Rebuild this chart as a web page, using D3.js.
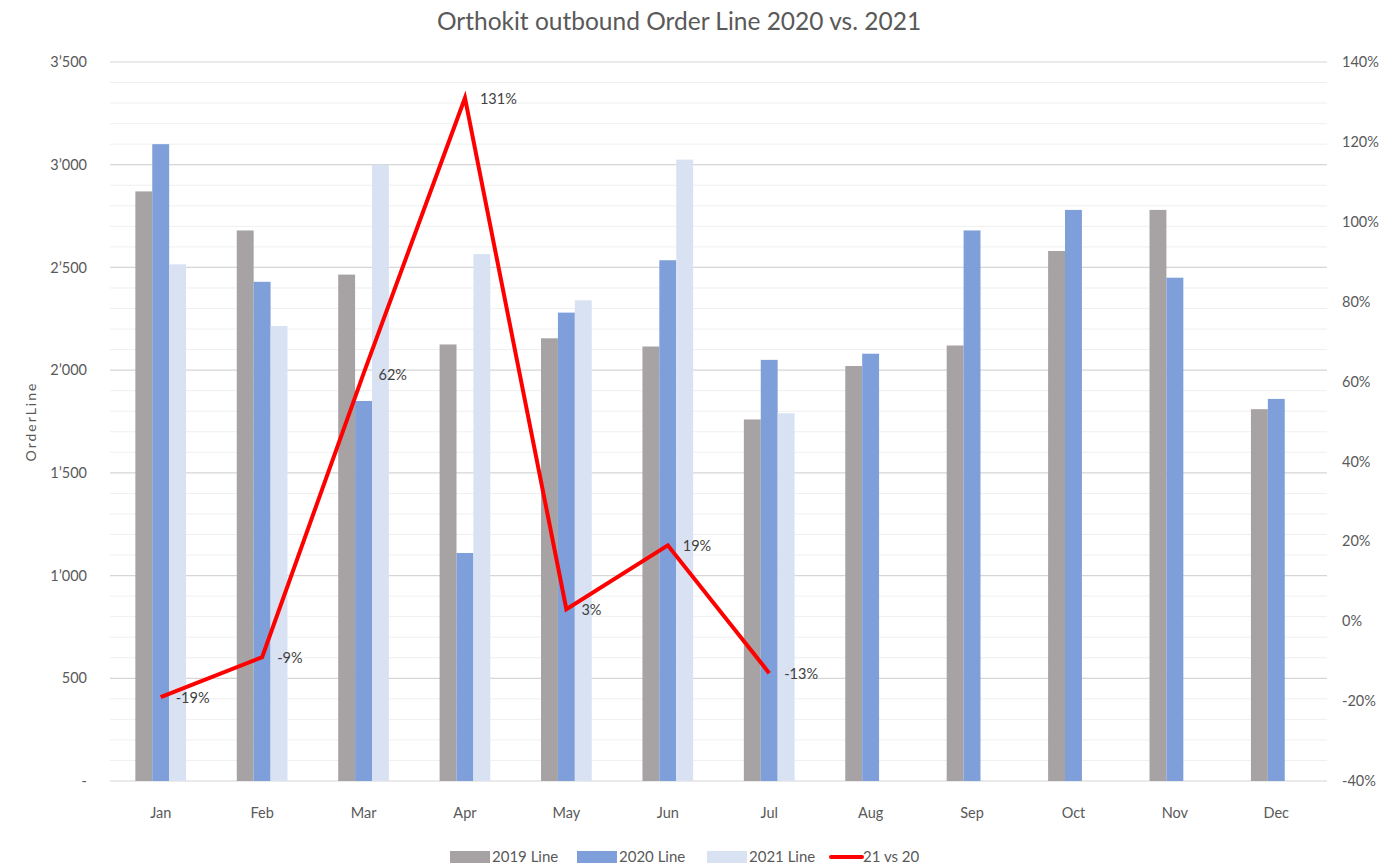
<!DOCTYPE html>
<html>
<head>
<meta charset="utf-8">
<script src="https://cdn.jsdelivr.net/npm/d3@7"></script>
<style>
  html, body { margin: 0; padding: 0; background: #fff; }
  svg { display: block; font-family: Lato, "Open Sans", sans-serif; }
</style>
</head>
<body>
<svg id="chart" width="1393" height="866"></svg>
<script>
"use strict";

/* ── Data ── */
const months   = ["Jan","Feb","Mar","Apr","May","Jun","Jul","Aug","Sep","Oct","Nov","Dec"];
const line2019 = [2870, 2680, 2465, 2125, 2155, 2115, 1760, 2020, 2120, 2580, 2780, 1810];
const line2020 = [3100, 2430, 1850, 1110, 2280, 2535, 2050, 2080, 2680, 2780, 2450, 1860];
const line2021 = [2515, 2215, 3000, 2565, 2340, 3025, 1790, null, null, null, null, null];
const vs2120   = [-0.19, -0.09, 0.62, 1.31, 0.03, 0.19, -0.13];
const leftTicks  = [0, 500, 1000, 1500, 2000, 2500, 3000, 3500];
const rightTicks = [-0.4, -0.2, 0, 0.2, 0.4, 0.6, 0.8, 1.0, 1.2, 1.4];

const seriesNames  = ["2019 Line", "2020 Line", "2021 Line"];
const seriesColors = ["#a7a3a5", "#7f9fda", "#d9e2f3"];
const seriesData   = [line2019, line2020, line2021];

/* ── Dimensions ── */
const svg = d3.select("#chart");
const plot = { left: 110, right: 1327, top: 62, bottom: 781 };

/* ── Scales ── */
const x = d3.scaleBand().domain(months).range([plot.left, plot.right])
  .paddingInner(0.5).paddingOuter(0.25);
const xs = d3.scaleBand().domain(d3.range(3)).range([0, x.bandwidth()]);
const y = d3.scaleLinear().domain([0, 3500]).range([plot.bottom, plot.top]);
const yR = d3.scaleLinear().domain([-0.4, 1.4]).range([plot.bottom, plot.top]);
const xc = m => x(m) + x.bandwidth() / 2;

/* hyphen minus, as in the original */
const pct = v => d3.format(".0%")(v).replace("\u2212", "-");

/* ── Gridlines ── */
const minor = d3.range(100, 3500, 100).filter(v => v % 500 !== 0);
svg.append("g").selectAll("line").data(minor).join("line")
  .attr("x1", plot.left).attr("x2", plot.right)
  .attr("y1", d => y(d)).attr("y2", d => y(d))
  .attr("stroke", "#efefef").attr("stroke-width", 1);
svg.append("g").selectAll("line").data(leftTicks).join("line")
  .attr("x1", plot.left).attr("x2", plot.right)
  .attr("y1", d => y(d)).attr("y2", d => y(d))
  .attr("stroke", "#d6d6d6").attr("stroke-width", 1.2);

/* ── Axes ── */
const fmtLeft = v => v === 0 ? "-" : d3.format(",")(v).replace(",", "\u2019");
const styleTicks = g => {
  g.select(".domain").remove();
  g.selectAll(".tick text").attr("fill", "#595959").attr("font-size", "14.5px")
    .attr("font-family", "Lato, sans-serif");
};

svg.append("g")
  .attr("transform", `translate(${plot.left - 20},0)`)
  .call(d3.axisLeft(y).tickValues(leftTicks).tickSize(0).tickFormat(fmtLeft))
  .call(styleTicks);

svg.append("g")
  .attr("transform", `translate(${plot.right + 12},0)`)
  .call(d3.axisRight(yR).tickValues(rightTicks).tickSize(0).tickFormat(pct))
  .call(styleTicks);

svg.append("g")
  .attr("transform", `translate(0,${plot.bottom + 24})`)
  .call(d3.axisBottom(x).tickSize(0))
  .call(styleTicks);

/* ── Bars ── */
seriesData.forEach((vals, si) => {
  svg.append("g").selectAll("rect")
    .data(months.map((m, i) => ({ m, v: vals[i] })).filter(d => d.v != null))
    .join("rect")
    .attr("x", d => x(d.m) + xs(si))
    .attr("width", xs.bandwidth())
    .attr("y", d => y(d.v))
    .attr("height", d => y(0) - y(d.v))
    .attr("fill", seriesColors[si]);
});

/* ── 21 vs 20 line ── */
const pts = vs2120.map((v, i) => ({ m: months[i], v }));
svg.append("path")
  .datum(pts)
  .attr("fill", "none")
  .attr("stroke", "#ff0000")
  .attr("stroke-width", 4)
  .attr("stroke-linejoin", "miter")
  .attr("d", d3.line().x(d => xc(d.m)).y(d => yR(d.v)));

svg.append("g").selectAll("text").data(pts).join("text")
  .attr("x", d => xc(d.m) + 15)
  .attr("y", d => yR(d.v) + 6)
  .attr("fill", "#404040")
  .attr("font-size", "14.5px")
  .text(d => pct(d.v));

/* ── Title ── */
svg.append("text")
  .attr("x", 679).attr("y", 30)
  .attr("text-anchor", "middle")
  .attr("fill", "#595959")
  .attr("font-size", "24.5px")
  .text("Orthokit outbound Order Line 2020 vs. 2021");

/* ── Y axis title ── */
svg.append("text")
  .attr("transform", `translate(36,${(plot.top + plot.bottom) / 2}) rotate(-90)`)
  .attr("text-anchor", "middle")
  .attr("fill", "#595959")
  .attr("font-size", "14px")
  .attr("letter-spacing", "2px")
  .text("OrderLine");

/* ── Legend ── */
const legendItems = [
  { name: seriesNames[0], color: seriesColors[0], x: 450, type: "rect" },
  { name: seriesNames[1], color: seriesColors[1], x: 577, type: "rect" },
  { name: seriesNames[2], color: seriesColors[2], x: 707, type: "rect" },
  { name: "21 vs 20",     color: "#ff0000",       x: 831, type: "line" }
];
const lg = svg.append("g").attr("transform", "translate(0,857)");
legendItems.forEach(it => {
  if (it.type === "rect") {
    lg.append("rect").attr("x", it.x).attr("y", -6).attr("width", 40).attr("height", 12)
      .attr("fill", it.color);
  } else {
    lg.append("line").attr("x1", it.x).attr("x2", it.x + 31).attr("y1", 0).attr("y2", 0)
      .attr("stroke", it.color).attr("stroke-width", 4).attr("stroke-linecap", "round");
  }
  lg.append("text").attr("x", it.x + (it.type === "rect" ? 42 : 32)).attr("y", 5)
    .attr("fill", "#595959").attr("font-size", "15px").text(it.name);
});
</script>
</body>
</html>
